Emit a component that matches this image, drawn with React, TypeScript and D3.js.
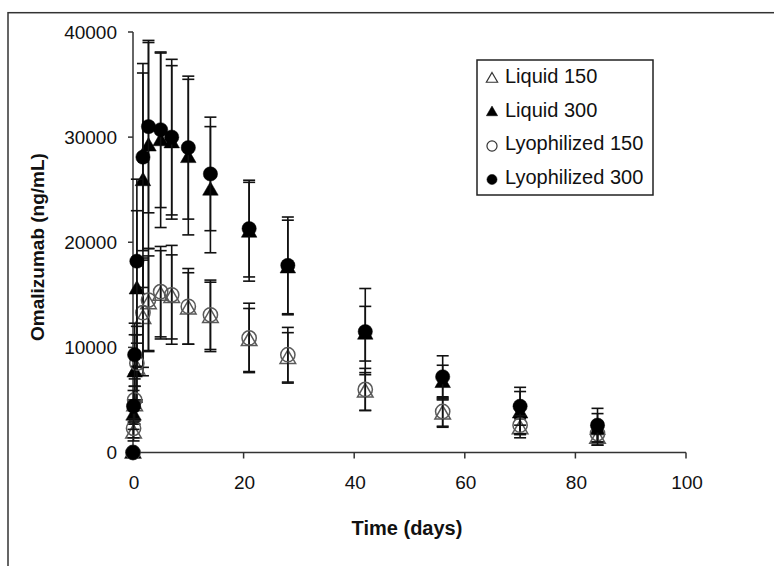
import React from "react";
import * as d3 from "d3";

const times = [0, 0.1, 0.3, 0.7, 1.8, 2.8, 5, 7, 10, 14, 21, 28, 42, 56, 70, 84];

const liquid150 = [0, 1900, 4500, 8000, 12800, 14200, 15000, 14800, 13700, 12900, 10700, 9000, 5800, 3700, 2300, 1400];
const liquid150Sd = [0, 800, 1800, 3200, 5500, 4500, 4200, 4000, 3400, 3300, 3000, 2400, 1800, 1300, 900, 700];
const liquid300 = [0, 3600, 7700, 15600, 25900, 29200, 29700, 29500, 28100, 25000, 21000, 17600, 11300, 6700, 3800, 2200];
const liquid300Sd = [0, 1400, 3500, 7400, 10200, 9800, 8300, 7300, 7400, 6000, 4700, 4500, 2600, 1600, 2000, 1500];
const lyo150 = [0, 2300, 5000, 8500, 13300, 14500, 15300, 15000, 13900, 13100, 10900, 9300, 6000, 3900, 2600, 1800];
const lyo150Sd = [0, 900, 2000, 3500, 5200, 4900, 4300, 4700, 3600, 3300, 3300, 2600, 2000, 1400, 900, 800];
const lyo300 = [0, 4400, 9300, 18200, 28100, 31000, 30700, 30000, 29000, 26500, 21300, 17800, 11500, 7200, 4400, 2600];
const lyo300Sd = [0, 1500, 3000, 7800, 8900, 8200, 7400, 7400, 6800, 5400, 4600, 4600, 4100, 2000, 1800, 1600];

const seriesNames = ["Liquid 150", "Liquid 300", "Lyophilized 150", "Lyophilized 300"];
const xTicks = [0, 20, 40, 60, 80, 100];
const yTicks = [0, 10000, 20000, 30000, 40000];

type Series = { name: string; mean: number[]; sd: number[]; shape: "tri" | "circle"; filled: boolean };

const series: Series[] = [
  { name: seriesNames[0], mean: liquid150, sd: liquid150Sd, shape: "tri", filled: false },
  { name: seriesNames[1], mean: liquid300, sd: liquid300Sd, shape: "tri", filled: true },
  { name: seriesNames[2], mean: lyo150, sd: lyo150Sd, shape: "circle", filled: false },
  { name: seriesNames[3], mean: lyo300, sd: lyo300Sd, shape: "circle", filled: true },
];

const FONT = "'Liberation Sans', Arial, sans-serif";

export default function App() {
  const x = d3.scaleLinear().domain([0, 100]).range([133, 686]);
  const y = d3.scaleLinear().domain([0, 40000]).range([452.5, 32]);

  const triBig = d3.symbol().type(d3.symbolTriangle).size(105)()!;
  const circBig = d3.symbol().type(d3.symbolCircle).size(160)()!;
  const triSmall = d3.symbol().type(d3.symbolTriangle).size(55)()!;
  const circSmall = d3.symbol().type(d3.symbolCircle).size(80)()!;

  const openStroke = "#5a5a5a";
  const capHalf = 6;

  return (
    <svg width={774} height={566} style={{ position: "absolute", left: 0, top: 0, background: "#fff" }}>
      {/* outer frame (cropped) */}
      <rect x={8} y={12.7} width={900} height={700} fill="none" stroke="#333" strokeWidth={1.5} />

      {/* axes */}
      <line x1={x(0)} x2={x(0)} y1={y(40000)} y2={y(0)} stroke="#333" strokeWidth={1.5} />
      <line x1={x(0)} x2={x(100)} y1={y(0)} y2={y(0)} stroke="#333" strokeWidth={1.5} />
      {yTicks.map((t) => (
        <g key={"y" + t}>
          <line x1={x(0) - 5} x2={x(0)} y1={y(t)} y2={y(t)} stroke="#333" strokeWidth={1.5} />
          <text x={117} y={y(t)} dy="0.36em" textAnchor="end" fontFamily={FONT} fontSize={19} fill="#111">
            {t}
          </text>
        </g>
      ))}
      {xTicks.map((t) => (
        <g key={"x" + t}>
          <line x1={x(t)} x2={x(t)} y1={y(0)} y2={y(0) + 6} stroke="#333" strokeWidth={1.5} />
          <text x={x(t) + 1} y={489} textAnchor="middle" fontFamily={FONT} fontSize={19} fill="#111">
            {t}
          </text>
        </g>
      ))}

      <text x={407} y={535} textAnchor="middle" fontFamily={FONT} fontSize={20} fontWeight="bold" fill="#111">
        Time (days)
      </text>
      <text
        transform="translate(44,247) rotate(-90)"
        textAnchor="middle"
        fontFamily={FONT}
        fontSize={19}
        fontWeight="bold"
        fill="#111"
      >
        Omalizumab (ng/mL)
      </text>

      {/* data */}
      {series.map((s) => (
        <g key={s.name}>
          {times.map((t, i) =>
            s.sd[i] > 0 ? (
              <g key={"e" + i} stroke="#111" strokeWidth={1.6}>
                <line x1={x(t)} x2={x(t)} y1={y(s.mean[i] + s.sd[i])} y2={y(Math.max(0, s.mean[i] - s.sd[i]))} />
                <line x1={x(t) - capHalf} x2={x(t) + capHalf} y1={y(s.mean[i] + s.sd[i])} y2={y(s.mean[i] + s.sd[i])} />
                <line
                  x1={x(t) - capHalf}
                  x2={x(t) + capHalf}
                  y1={y(Math.max(0, s.mean[i] - s.sd[i]))}
                  y2={y(Math.max(0, s.mean[i] - s.sd[i]))}
                />
              </g>
            ) : null
          )}
          {times.map((t, i) => (
            <path
              key={"m" + i}
              d={s.shape === "tri" ? triBig : circBig}
              transform={`translate(${x(t)},${y(s.mean[i]) + (s.shape === "tri" ? 1 : 0)})`}
              fill={s.filled ? "#000" : "none"}
              stroke={s.filled ? "#000" : openStroke}
              strokeWidth={s.filled ? 0.5 : 1.5}
            />
          ))}
        </g>
      ))}

      {/* legend */}
      <rect x={477} y={60} width={176} height={135} fill="#fff" stroke="#222" strokeWidth={1.5} />
      {series.map((s, i) => {
        const by = 83 + i * 33.5;
        return (
          <g key={"l" + s.name}>
            <path
              d={s.shape === "tri" ? triSmall : circSmall}
              transform={`translate(492,${by - 4})`}
              fill={s.filled ? "#000" : "none"}
              stroke={s.filled ? "#000" : "#333"}
              strokeWidth={s.filled ? 0.5 : 1.2}
            />
            <text x={505} y={by} fontFamily={FONT} fontSize={20} fill="#111">
              {s.name}
            </text>
          </g>
        );
      })}
    </svg>
  );
}
